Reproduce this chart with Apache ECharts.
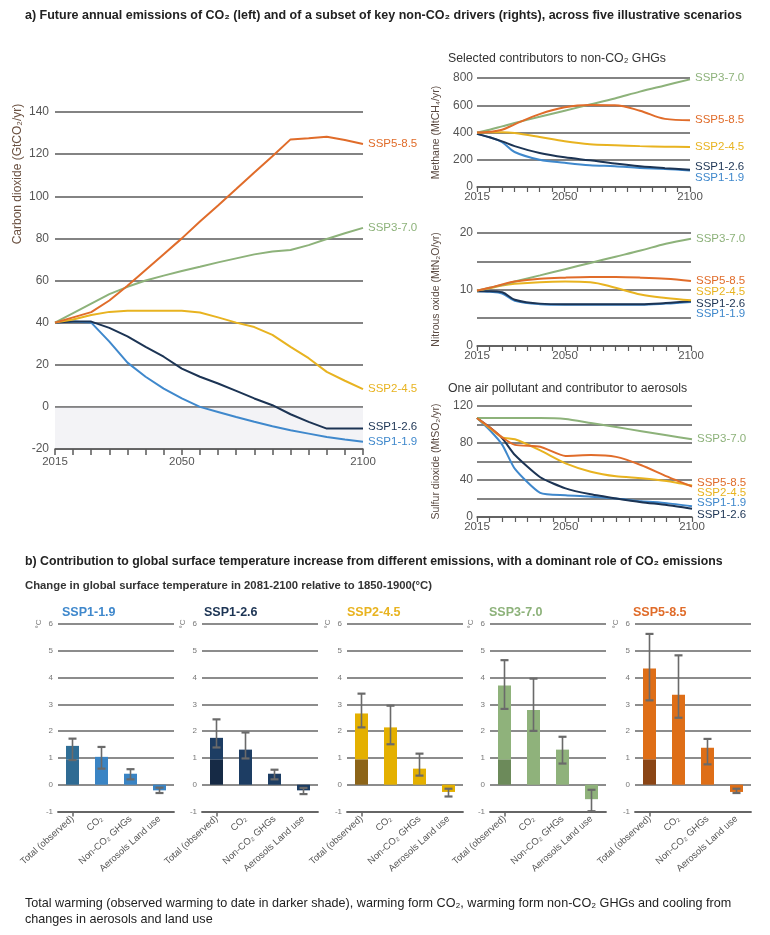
<!DOCTYPE html>
<html><head><meta charset="utf-8">
<script src="https://cdn.jsdelivr.net/npm/echarts@6/dist/echarts.min.js"></script>
<style>html,body{margin:0;padding:0;background:#fff}#c{width:770px;height:935px}</style>
</head><body><div id="c"></div>
<script>
// ---------- DATA ----------
const scenarios = ['SSP1-1.9','SSP1-2.6','SSP2-4.5','SSP3-7.0','SSP5-8.5'];
const yearLabels = [2015, 2050, 2100];

// CO2 (GtCO2/yr), every 5 years 2015..2100
const co2Years = [2015,2020,2025,2030,2035,2040,2045,2050,2055,2060,2065,2070,2075,2080,2085,2090,2095,2100];
const co2SSP119 = [40,40.5,40,31,21,14.3,8.7,4,0,-2.4,-4.8,-7.1,-9.2,-11.1,-12.7,-14.3,-15.5,-16.6];
const co2SSP126 = [40,40.5,40.5,37.5,33.5,28.5,23.8,18.2,14.3,11.1,7.6,4,0.8,-3.5,-7.1,-10.3,-10.3,-10.3];
const co2SSP245 = [40,41.5,43.6,45.1,45.6,45.6,45.6,45.6,44.8,42.5,40,37.9,34.2,28.5,23.1,16.6,12.4,8.4];
const co2SSP370 = [40,44.5,49,53.5,57,60,62.3,64.5,66.5,68.6,70.5,72.4,73.8,74.5,76.8,79.7,82.4,85];
const co2SSP585 = [40,42.5,45,50.5,57.5,65,72.5,80,88,95.6,103.4,111.3,119,127,127.5,128.3,126.7,124.8];

// non-CO2 gases
const gasYears = [2015,2020,2025,2030,2040,2050,2060,2070,2080,2090,2100];
const ch4SSP119 = [390,365,330,257,200,178,160,152,140,133,122];
const ch4SSP126 = [390,365,335,300,250,218,196,172,152,138,127];
const ch4SSP245 = [400,402,402,396,367,335,313,306,300,296,294];
const ch4SSP370 = [400,420,445,470,515,560,605,650,700,745,790];
const ch4SSP585 = [400,405,420,460,535,585,602,600,560,500,490];

const n2oSSP119 = [9.7,9.6,9.3,8.0,7.4,7.3,7.3,7.3,7.3,7.5,7.8];
const n2oSSP126 = [9.7,9.7,9.5,8.2,7.5,7.4,7.4,7.4,7.4,7.6,7.9];
const n2oSSP245 = [9.8,10.2,10.7,11.0,11.3,11.4,11.3,10.3,9.1,8.5,8.1];
const n2oSSP370 = [9.8,10.3,10.8,11.4,12.5,13.6,14.7,15.8,16.9,18.1,19.0];
const n2oSSP585 = [9.8,10.3,10.9,11.4,11.9,12.1,12.2,12.2,12.1,11.9,11.5];

const so2SSP119 = [107,94,78,52,26,23.5,22,20,17,15,11.5];
const so2SSP126 = [107,97,85,67,43,31,24.5,20,16,13,9];
const so2SSP245 = [107,96,86,84,72,58,49,44,42,39,34];
const so2SSP370 = [107,107,107,107,107,106,101.6,97.2,92.8,88.4,84];
const so2SSP585 = [107,97,86,78,76,66,67,65,56,44,33];

// warming contributions (°C), 2081-2100 vs 1850-1900
const barCategories = ['Total (observed)','CO₂','Non-CO₂ GHGs','Aerosols Land use'];
const observedPart = [0.95,0.95,0.95,0.95,0.95];
const barsSSP119 = [1.45,1.04,0.41,-0.21];
const lowSSP119  = [0.92,0.60,0.20,-0.31];
const highSSP119 = [1.72,1.41,0.58,-0.11];
const barsSSP126 = [1.75,1.31,0.41,-0.21];
const lowSSP126  = [1.39,0.98,0.20,-0.35];
const highSSP126 = [2.44,1.95,0.56,-0.12];
const barsSSP245 = [2.66,2.14,0.60,-0.27];
const lowSSP245  = [2.14,1.51,0.34,-0.44];
const highSSP245 = [3.40,2.95,1.16,-0.15];
const barsSSP370 = [3.70,2.79,1.31,-0.54];
const lowSSP370  = [2.83,2.01,0.79,-0.99];
const highSSP370 = [4.65,3.96,1.79,-0.19];
const barsSSP585 = [4.34,3.36,1.38,-0.27];
const lowSSP585  = [3.15,2.50,0.76,-0.31];
const highSSP585 = [5.63,4.83,1.71,-0.15];

// ---------- STYLE ----------
const FONT = 'Liberation Sans, Arial, sans-serif';
const lineColors = ['#3f88cc','#1c3454','#e8b320','#8db27a','#e06c2a'];
const barColors  = ['#3a84c4','#1d3d63','#e4b000','#8fb27b','#de6e17'];
const obsColors  = ['#2f6b93','#162a45','#8c6418','#6c8a5a','#8a4515'];
const totalColors= ['#2f6e96','#1d3d63','#e4b000','#8fb27b','#de6e17'];
const GRID_C = '#5a5a5a';
const TICK_C = '#555';

const co2Series = [co2SSP119,co2SSP126,co2SSP245,co2SSP370,co2SSP585];
const ch4Series = [ch4SSP119,ch4SSP126,ch4SSP245,ch4SSP370,ch4SSP585];
const n2oSeries = [n2oSSP119,n2oSSP126,n2oSSP245,n2oSSP370,n2oSSP585];
const so2Series = [so2SSP119,so2SSP126,so2SSP245,so2SSP370,so2SSP585];
const barSets = [
  [barsSSP119, lowSSP119, highSSP119],
  [barsSSP126, lowSSP126, highSSP126],
  [barsSSP245, lowSSP245, highSSP245],
  [barsSSP370, lowSSP370, highSSP370],
  [barsSSP585, lowSSP585, highSSP585]
];

const grids = [
  {left:55, top:112, width:308, height:337},
  {left:477, top:78, width:213, height:109},
  {left:477, top:233, width:214, height:113},
  {left:477, top:406, width:215, height:111}
];
const barLefts = [58, 202, 347, 490, 635];
barLefts.forEach(l => grids.push({left:l, top:624, width:116, height:187.5}));
grids.forEach(g => { g.outerBoundsMode = 'none'; g.containLabel = false; });

const yearLabel = v => yearLabels.includes(v) ? String(v) : '';
const xAxes = [];
const yAxes = [];

// main
xAxes.push({type:'value', gridIndex:0, min:2015, max:2100, interval:5, position:'bottom',
  axisLine:{show:false}, axisTick:{show:false}, splitLine:{show:false},
  axisLabel:{formatter:yearLabel, fontSize:11.5, color:TICK_C, fontFamily:FONT, margin:7}});
xAxes.push({type:'value', gridIndex:0, min:2015, max:2100, interval:5, position:'bottom',
  axisLine:{show:true, onZero:true, lineStyle:{color:GRID_C, width:1.6}},
  axisTick:{show:true, length:6, lineStyle:{color:GRID_C, width:1.5}},
  axisLabel:{show:false}, splitLine:{show:false}, z:3});
yAxes.push({type:'value', gridIndex:0, min:-20, max:140, interval:20,
  axisLine:{show:false}, axisTick:{show:false},
  splitLine:{lineStyle:{color:GRID_C, width:1.6}},
  axisLabel:{fontSize:12, color:TICK_C, fontFamily:FONT, margin:6}});

const smallY = [
  {min:0, max:800, interval:200, fmt:v=>String(v), name:'Methane (MtCH₄/yr)'},
  {min:0, max:20, interval:5, fmt:v=>v%10===0?String(v):'', name:'Nitrous oxide (MtN₂O/yr)'},
  {min:0, max:120, interval:20, fmt:v=>v%40===0?String(v):'', name:'Sulfur dioxide (MtSO₂/yr)'}
];
smallY.forEach((s,i) => {
  xAxes.push({type:'value', gridIndex:i+1, min:2015, max:2100, interval:5, position:'bottom',
    axisLine:{show:true, onZero:false, lineStyle:{color:GRID_C, width:1.5}},
    axisTick:{show:true, length:5, lineStyle:{color:GRID_C, width:1.2}},
    splitLine:{show:false},
    axisLabel:{formatter:yearLabel, fontSize:11.5, color:TICK_C, fontFamily:FONT, margin:4}});
  yAxes.push({type:'value', gridIndex:i+1, min:s.min, max:s.max, interval:s.interval,
    name:s.name, nameLocation:'middle', nameGap:35,
    nameTextStyle:{fontSize:10.5, color:'#5a4a42', fontFamily:FONT},
    axisLine:{show:false}, axisTick:{show:false},
    splitLine:{lineStyle:{color:GRID_C, width:1.5}},
    axisLabel:{formatter:s.fmt, fontSize:12, color:TICK_C, fontFamily:FONT, margin:4}});
});

// bar panels
scenarios.forEach((s,i) => {
  const gi = 4 + i;
  xAxes.push({type:'category', gridIndex:gi, data:barCategories, position:'bottom',
    axisLine:{show:false}, axisTick:{show:false},
    axisLabel:{interval:0, rotate:42, fontSize:9.5, color:'#555', fontFamily:FONT, margin:6}});
  xAxes.push({type:'category', gridIndex:gi, data:barCategories, position:'bottom',
    axisLine:{show:true, onZero:true, lineStyle:{color:'#666', width:1.8}},
    axisTick:{show:true, alignWithLabel:true, length:5, lineStyle:{color:'#666', width:1.5}},
    axisLabel:{show:false}, z:3});
  yAxes.push({type:'value', gridIndex:gi, min:-1, max:6, interval:1,
    axisLine:{show:false}, axisTick:{show:false},
    splitLine:{lineStyle:{color:'#666', width:1.6}},
    axisLabel:{fontSize:8, color:'#777', fontFamily:FONT, margin:5}});
});

const series = [];
function addLines(dataSets, xs, xi, yi, offsets, smooth) {
  dataSets.forEach((vals, k) => {
    const name = scenarios[k];
    const s = {type:'line', name, xAxisIndex:xi, yAxisIndex:yi,
      data: xs.map((x,j)=>[x, vals[j]]), symbol:'none', showSymbol:false, smooth,
      lineStyle:{color:lineColors[k], width:2}, itemStyle:{color:lineColors[k]},
      endLabel:{show:true, formatter:()=>name, color:lineColors[k], fontSize:11.5,
        fontFamily:FONT, distance:5, offset:offsets[k]},
      silent:true, animation:false, z:4};
    series.push(s);
  });
}
addLines(co2Series, co2Years, 0, 0, [[0,0],[0,-2],[0,0],[0,0],[0,0]], false);
// shaded negative region
series[0].markArea = {silent:true, itemStyle:{color:'rgba(200,200,212,0.22)'},
  data:[[{xAxis:2015, yAxis:-20},{xAxis:2100, yAxis:0}]]};
addLines(ch4Series, gasYears, 2, 1, [[0,7],[0,-3],[0,0],[0,-2],[0,0]], 0.35);
addLines(n2oSeries, gasYears, 3, 2, [[0,12],[0,2],[0,-8],[0,0],[0,0]], 0.35);
addLines(so2Series, gasYears, 4, 3, [[0,-4],[0,6],[0,7],[0,0],[0,-4]], 0.2);

scenarios.forEach((s,i) => {
  const [vals, lows, highs] = barSets[i];
  const xi = 5 + 2*i, yi = 4 + i;
  series.push({type:'bar', name:'observed '+s, xAxisIndex:xi, yAxisIndex:yi, stack:'st'+i,
    barWidth:13, data:[observedPart[i],'-','-','-'], itemStyle:{color:obsColors[i]}, silent:true, animation:false});
  series.push({type:'bar', name:'rest '+s, xAxisIndex:xi, yAxisIndex:yi, stack:'st'+i,
    barWidth:13, data: vals.map((v,j)=> j===0 ? {value:+(v-observedPart[i]).toFixed(3), itemStyle:{color:totalColors[i]}} : {value:v, itemStyle:{color:barColors[i]}}),
    silent:true, animation:false});
  series.push({type:'custom', name:'err '+s, xAxisIndex:xi, yAxisIndex:yi, silent:true, animation:false, z:5,
    data: lows.map((lo,j)=>[j, lo, highs[j]]), encode:{x:0, y:[1,2]},
    renderItem:(params, api) => {
      const x = api.value(0);
      const p1 = api.coord([x, api.value(1)]), p2 = api.coord([x, api.value(2)]);
      const w = 4, c = '#6a6a6a';
      return {type:'group', children:[
        {type:'line', shape:{x1:p1[0], y1:p1[1], x2:p2[0], y2:p2[1]}, style:{stroke:c, lineWidth:1.6}},
        {type:'line', shape:{x1:p1[0]-w, y1:p1[1], x2:p1[0]+w, y2:p1[1]}, style:{stroke:c, lineWidth:2.2}},
        {type:'line', shape:{x1:p2[0]-w, y1:p2[1], x2:p2[0]+w, y2:p2[1]}, style:{stroke:c, lineWidth:2.2}}
      ]};
    }});
});

const titles = [
  {text:'a) Future annual emissions of CO₂ (left) and of a subset of key non-CO₂ drivers (rights), across five illustrative scenarios', left:25, top:9, padding:0, textStyle:{fontSize:12.5, fontWeight:'bold', color:'#222', fontFamily:FONT}},
  {text:'Selected contributors to non-CO₂ GHGs', left:448, top:53, padding:0, textStyle:{fontSize:12.3, fontWeight:'normal', color:'#333', fontFamily:FONT}},
  {text:'One air pollutant and contributor to aerosols', left:448, top:383, padding:0, textStyle:{fontSize:12.3, fontWeight:'normal', color:'#333', fontFamily:FONT}},
  {text:'b) Contribution to global surface temperature increase from different emissions, with a dominant role of CO₂ emissions', left:25, top:556, padding:0, textStyle:{fontSize:12.3, fontWeight:'bold', color:'#222', fontFamily:FONT}},
  {text:'Change in global surface temperature in 2081-2100 relative to 1850-1900(°C)', left:25, top:580, padding:0, textStyle:{fontSize:11.3, fontWeight:'bold', color:'#333', fontFamily:FONT}},
  {text:'Total warming (observed warming to date in darker shade), warming form CO₂, warming form non-CO₂ GHGs and cooling from\nchanges in aerosols and land use', left:25, top:896, padding:0, textStyle:{fontSize:12.6, fontWeight:'normal', color:'#222', fontFamily:FONT, lineHeight:16}}
];
const barTitleLefts = [62, 204, 347, 489, 633];
scenarios.forEach((s,i) => titles.push({text:s, left:barTitleLefts[i], top:606, padding:0,
  textStyle:{fontSize:12.5, fontWeight:'bold', color:lineColors[i], fontFamily:FONT}}));

const graphics = [
  {type:'text', x:18, y:174, rotation:Math.PI/2, style:{text:'Carbon dioxide (GtCO₂/yr)', align:'center', verticalAlign:'middle', fontSize:12, fill:'#6a5040', fontFamily:FONT}}
];
barLefts.forEach(l => graphics.push({type:'text', x:l-19, y:624, rotation:Math.PI/2,
  style:{text:'°C', align:'center', verticalAlign:'middle', fontSize:8, fill:'#777', fontFamily:FONT}}));

const chart = echarts.init(document.getElementById('c'), null, {renderer:'canvas'});
chart.setOption({
  backgroundColor:'#fff', animation:false,
  textStyle:{fontFamily:FONT},
  title: titles, grid: grids, xAxis: xAxes, yAxis: yAxes, series, graphic: graphics
});
</script></body></html>
